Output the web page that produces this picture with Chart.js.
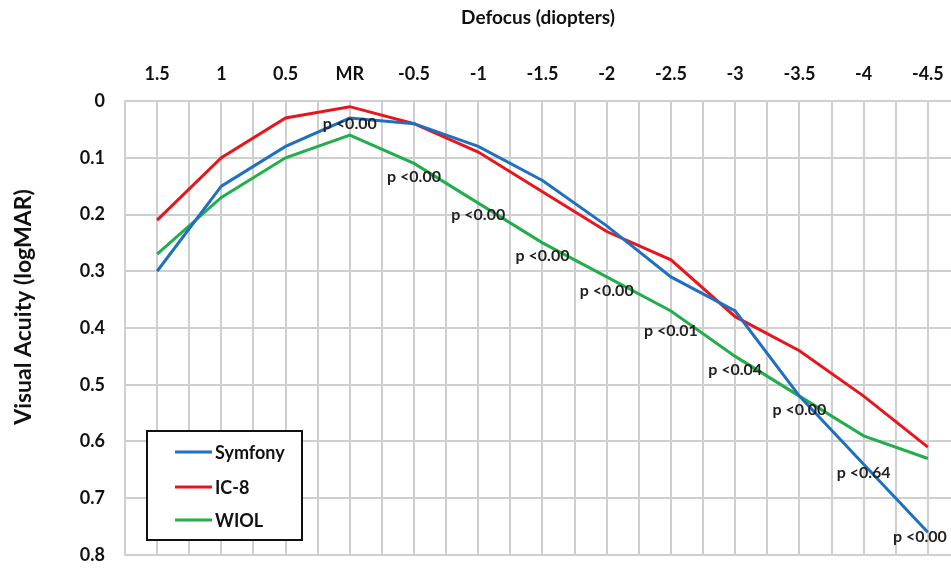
<!DOCTYPE html>
<html>
<head>
<meta charset="utf-8">
<script src="https://cdn.jsdelivr.net/npm/chart.js@4.4.1/dist/chart.umd.min.js"></script>
<style>
  html, body { margin: 0; padding: 0; background: #fff; overflow: hidden; }
  #wrap { width: 951px; height: 570px; }
</style>
</head>
<body>
<div id="wrap"><canvas id="vaChart" width="951" height="570"></canvas></div>
<script>
// defocus steps (top axis)
const defocus = ['1.5', '1', '0.5', 'MR', '-0.5', '-1', '-1.5', '-2', '-2.5', '-3', '-3.5', '-4', '-4.5'];

// visual acuity in logMAR
const symfony = [0.30, 0.15, 0.08, 0.03, 0.04, 0.08, 0.14, 0.22, 0.31, 0.37, 0.52, 0.64, 0.76];
const ic8     = [0.21, 0.10, 0.03, 0.01, 0.04, 0.09, 0.16, 0.23, 0.28, 0.38, 0.44, 0.52, 0.61];
const wiol    = [0.27, 0.17, 0.10, 0.06, 0.11, 0.18, 0.25, 0.31, 0.37, 0.45, 0.52, 0.59, 0.63];

// p values written under the curves, from MR to -4.5
const pIndex  = [3, 4, 5, 6, 7, 8, 9, 10, 11, 12];
const pText   = ['p <0.00', 'p <0.00', 'p <0.00', 'p <0.00', 'p <0.00', 'p <0.01', 'p <0.04', 'p <0.00', 'p <0.64', 'p <0.00'];
const pLevel  = [0.04, 0.134, 0.201, 0.273, 0.335, 0.405, 0.474, 0.545, 0.656, 0.768];

const yTicks = [0, 0.1, 0.2, 0.3, 0.4, 0.5, 0.6, 0.7, 0.8];

const FONT = 'Lato, "Open Sans", sans-serif';

function toPoints(arr) {
    return arr.map((v, i) => ({ x: i, y: v }));
}

// p-value labels
const pLabels = {
    id: 'pLabels',
    afterDatasetsDraw(chart) {
        const ctx = chart.ctx;
        const xs = chart.scales.x, ys = chart.scales.y;
        ctx.save();
        ctx.font = 'bold 16px ' + FONT;
        ctx.fillStyle = '#222';
        ctx.textAlign = 'center';
        ctx.textBaseline = 'middle';
        pIndex.forEach((idx, i) => {
            let x = xs.getPixelForValue(idx);
            if (idx === defocus.length - 1) x -= 8;
            ctx.fillText(pText[i], x, ys.getPixelForValue(pLevel[i]));
        });
        ctx.restore();
    }
};

// y axis title, sits a little above the middle of the axis
const yTitle = {
    id: 'yTitle',
    afterDraw(chart) {
        const ctx = chart.ctx;
        ctx.save();
        ctx.translate(24, 307);
        ctx.rotate(-Math.PI / 2);
        ctx.font = 'bold 23px ' + FONT;
        ctx.fillStyle = '#111';
        ctx.textAlign = 'center';
        ctx.textBaseline = 'middle';
        ctx.fillText('Visual Acuity (logMAR)', 0, 0);
        ctx.restore();
    }
};

// boxed legend in the lower left of the plot
const boxLegend = {
    id: 'boxLegend',
    afterDraw(chart) {
        const ctx = chart.ctx;
        ctx.save();
        ctx.fillStyle = '#fff';
        ctx.fillRect(147, 431, 155, 109);
        ctx.strokeStyle = '#111';
        ctx.lineWidth = 2;
        ctx.strokeRect(147, 431, 155, 109);
        ctx.font = 'bold 18px ' + FONT;
        ctx.textBaseline = 'middle';
        ctx.textAlign = 'left';
        const rows = [452, 487, 520];
        chart.data.datasets.forEach((ds, i) => {
            ctx.strokeStyle = ds.borderColor;
            ctx.lineWidth = 3;
            ctx.beginPath();
            ctx.moveTo(175, rows[i]);
            ctx.lineTo(212, rows[i]);
            ctx.stroke();
            ctx.fillStyle = '#111';
            ctx.fillText(ds.label, 215, rows[i] + 1);
        });
        ctx.restore();
    }
};

const ctx = document.getElementById('vaChart').getContext('2d');
new Chart(ctx, {
    type: 'line',
    data: {
        datasets: [
            { label: 'Symfony', data: toPoints(symfony), borderColor: '#1f70c1' },
            { label: 'IC-8', data: toPoints(ic8), borderColor: '#e8161c' },
            { label: 'WIOL', data: toPoints(wiol), borderColor: '#21ae4b' }
        ].map(d => Object.assign(d, { borderWidth: 3, pointRadius: 0, tension: 0, fill: false }))
    },
    options: {
        responsive: false,
        animation: false,
        layout: { padding: { left: 0, right: 0, top: 0, bottom: 15 } },
        plugins: {
            legend: { display: false },
            tooltip: { enabled: false }
        },
        scales: {
            x: {
                type: 'linear',
                position: 'top',
                min: -0.5,
                max: 12.36,
                afterFit(scale) {
                    scale.height = 101;
                    scale.paddingLeft = 0;
                    scale.paddingRight = 0;
                },
                ticks: {
                    stepSize: 0.5,
                    autoSkip: false,
                    includeBounds: false,
                    maxRotation: 0,
                    padding: 16,
                    color: '#111',
                    font: { family: FONT, size: 18, weight: 'bold' },
                    callback: v => Number.isInteger(v) ? defocus[v] : ''
                },
                grid: { color: '#cfcfcf', lineWidth: 2, drawTicks: false },
                border: { color: '#cfcfcf', width: 2 },
                title: {
                    display: true,
                    text: 'Defocus (diopters)',
                    color: '#111',
                    font: { family: FONT, size: 19, weight: 'bold' },
                    padding: { top: 6, bottom: 0 }
                }
            },
            y: {
                reverse: true,
                min: 0,
                max: 0.8,
                afterFit(scale) {
                    scale.width = 125;
                    scale.paddingTop = 0;
                    scale.paddingBottom = 0;
                },
                afterBuildTicks(scale) { scale.ticks = yTicks.map(v => ({ value: v })); },
                ticks: {
                    padding: 20,
                    color: '#111',
                    font: { family: FONT, size: 18, weight: 'bold' },
                    callback: v => v === 0 ? '0' : v.toFixed(1)
                },
                grid: { color: '#cfcfcf', lineWidth: 2, drawTicks: false },
                border: { color: '#cfcfcf', width: 2 }
            }
        }
    },
    plugins: [pLabels, yTitle, boxLegend]
});
</script>
</body>
</html>
